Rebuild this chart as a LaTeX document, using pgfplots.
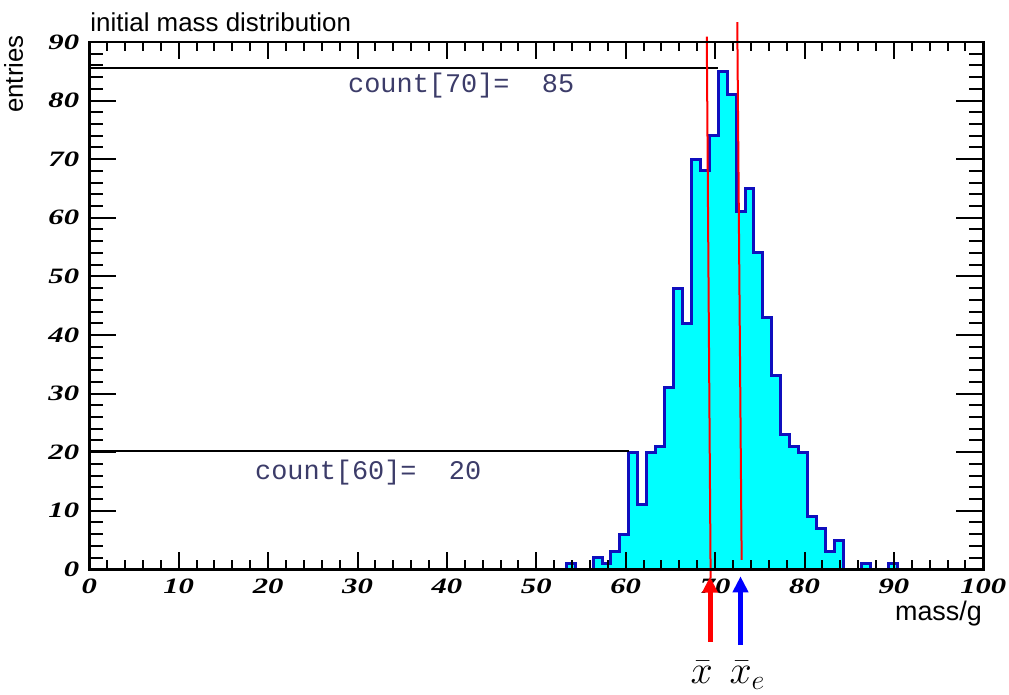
\RequirePackage{fix-cm}
\documentclass[border=0pt]{standalone}
\usepackage{pgfplots}
\pgfplotsset{compat=1.18}
\usepackage{fontspec}
\setmainfont{Liberation Sans}
\newfontfamily\tickfont{Liberation Serif}[FakeStretch=1.4]
\newfontfamily\cntfont{Liberation Mono}
\usetikzlibrary{arrows.meta}
\definecolor{histblue}{RGB}{15,15,190}
\definecolor{txtblue}{RGB}{60,60,105}
\definecolor{histfill}{RGB}{0,255,255}

\begin{document}
\begin{tikzpicture}
\useasboundingbox (-89.3bp,-125.7bp) rectangle (919.7bp,569.3bp);
\begin{axis}[
  at={(0,0)}, anchor=south west,
  scale only axis, width=894bp, height=527.3bp,
  xmin=0, xmax=100, ymin=0, ymax=90,
  xtick={0,10,...,100}, ytick={0,10,...,90},
  minor tick num=4,
  axis on top, clip=false,
  axis line style={line width=2.5bp},
  tick style={line width=2bp, black},
  major tick length=17bp, minor tick length=9bp,
  ytick style={/pgfplots/major tick length=27bp, /pgfplots/minor tick length=14bp},
  tick align=inside,
  /pgf/number format/assume math mode=true,
  ticklabel style={font=\fontsize{22}{22}\tickfont\bfseries\itshape, inner sep=0pt},
  xticklabel style={yshift=-9bp},
  yticklabel style={xshift=-10bp},
]
\addplot[const plot, fill=histfill, draw=histblue, line width=3bp] coordinates {
(53.35,1)(54.35,0)(55.35,0)(56.35,2)(57.35,1)(58.35,3)(59.35,6)
(60.35,20)(61.35,11)(62.35,20)(63.35,21)(64.35,31)(65.35,48)(66.35,42)
(67.35,70)(68.35,68)(69.35,74)(70.35,85)(71.35,81)(72.35,61)(73.35,65)
(74.35,54)(75.35,43)(76.35,33)(77.35,23)(78.35,21)(79.35,20)(80.35,9)
(81.35,7)(82.35,3)(83.35,5)(84.35,0)(85.35,0)(86.35,1)(87.35,0)(88.35,0)
(89.35,1)(90.35,0)(91.35,0)
} \closedcycle;
\draw[black, line width=2bp] (axis cs:0,20.2) -- (axis cs:60.35,20.2);
\draw[black, line width=2bp] (axis cs:0,85.5) -- (axis cs:70.35,85.5);
\draw[red, line width=2bp] (axis cs:69.07,90.9) -- (axis cs:69.5,-1.5);
\draw[red, line width=2bp] (axis cs:72.48,93.4) -- (axis cs:72.97,1.6);
\end{axis}
% texts and arrows (absolute positions, 1px = 1bp)
\node[anchor=base west, inner sep=0pt, font=\fontsize{26}{26}\selectfont] at (1bp,537.5bp) {initial mass distribution};
\node[anchor=base east, rotate=90, inner sep=0pt, font=\fontsize{26}{26}\selectfont] at (-66.3bp,534.3bp) {entries};
\node[anchor=base east, inner sep=0pt, font=\fontsize{27}{27}\selectfont] at (892.7bp,-50.7bp) {mass/g};
\node[anchor=base west, inner sep=0pt, text=txtblue, font=\fontsize{27}{27}\cntfont] at (258.7bp,476.3bp) {count[70]=\ \ 85};
\node[anchor=base west, inner sep=0pt, text=txtblue, font=\fontsize{27}{27}\cntfont] at (165.7bp,90bp) {count[60]=\ \ 20};
\draw[red, line width=5bp, -{Triangle[width=15bp,length=16bp]}] (620.7bp,-72.4bp) -- (620.7bp,-7.4bp);
\draw[blue, line width=5bp, -{Triangle[width=15bp,length=16bp]}] (651.2bp,-75.7bp) -- (651.2bp,-7bp);
\node[anchor=base west, inner sep=0pt, font=\fontsize{40}{40}\selectfont] at (601bp,-114bp) {$\bar{x}$};
\node[anchor=base west, inner sep=0pt, font=\fontsize{40}{40}\selectfont] at (640bp,-114bp) {$\bar{x}_e$};
\end{tikzpicture}
\end{document}
